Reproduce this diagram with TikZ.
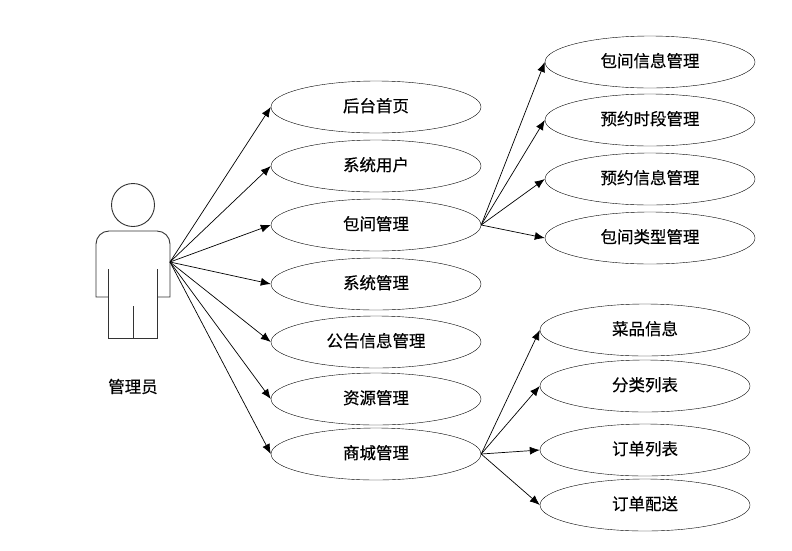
\documentclass[tikz,border=0pt]{standalone}
\usepackage{fontspec}
\setmainfont[FakeBold=0.4]{Noto Sans CJK SC}
\usetikzlibrary{shapes.geometric,arrows.meta}
\tikzset{
    usecase/.style={draw,ellipse,minimum width=210pt,minimum height=52pt,inner sep=0pt,text height=13pt,text depth=3pt,font=\fontsize{16.5}{16.5}\selectfont},
    link/.style={-{Latex[length=10pt,width=8pt]},line width=0.7pt},
    figure/.style={line width=0.9pt,black!80}
}
\begin{document}
\begin{tikzpicture}[x=1pt,y=-1pt]
        \useasboundingbox (0,0) rectangle (792,550);

        % Actor
        \node[draw,circle,figure,minimum size=43pt,inner sep=0pt] (Head) at (133,205) {};
        \draw[figure] (108,297) -- (96,297) [rounded corners=13pt] -- (96,231) -- (170,231) [sharp corners] -- (170,297) -- (157,297);
        \draw[figure] (108,269) -- (108,338) -- (157,338) -- (157,269);
        \draw[figure] (133,306) -- (133,338);
        \coordinate (Actor) at (170,262);
        \node[font=\fontsize{16.5}{16.5}\selectfont] (ActorName) at (133,386.5) {管理员};

        % Middle column
        \node[usecase] (Home) at (376,107) {后台首页};
        \node[usecase] (Users) at (376,166) {系统用户};
        \node[usecase] (Room) at (376,225) {包间管理};
        \node[usecase] (System) at (376,284) {系统管理};
        \node[usecase] (Notice) at (376,342) {公告信息管理};
        \node[usecase] (Resource) at (376,399) {资源管理};
        \node[usecase] (Shop) at (376,454) {商城管理};

        % Right column, top
        \node[usecase] (RoomInfo) at (650,62) {包间信息管理};
        \node[usecase] (Slot) at (650,120) {预约时段管理};
        \node[usecase] (Booking) at (650,179) {预约信息管理};
        \node[usecase] (RoomType) at (650,238) {包间类型管理};

        % Right column, bottom
        \node[usecase] (Dish) at (645,330) {菜品信息};
        \node[usecase] (Category) at (645,386) {分类列表};
        \node[usecase] (Orders) at (645,450) {订单列表};
        \node[usecase] (Delivery) at (645,505) {订单配送};

        % Links
        \draw[link] (Actor) -- (Home.west);
        \draw[link] (Actor) -- (Users.west);
        \draw[link] (Actor) -- (Room.west);
        \draw[link] (Actor) -- (System.west);
        \draw[link] (Actor) -- (Notice.west);
        \draw[link] (Actor) -- (Resource.west);
        \draw[link] (Actor) -- (Shop.west);

        \draw[link] (Room.east) -- (RoomInfo.west);
        \draw[link] (Room.east) -- (Slot.west);
        \draw[link] (Room.east) -- (Booking.west);
        \draw[link] (Room.east) -- (RoomType.west);

        \draw[link] (Shop.east) -- (Dish.west);
        \draw[link] (Shop.east) -- (Category.west);
        \draw[link] (Shop.east) -- (Orders.west);
        \draw[link] (Shop.east) -- (Delivery.west);

    \end{tikzpicture}
\end{document}
